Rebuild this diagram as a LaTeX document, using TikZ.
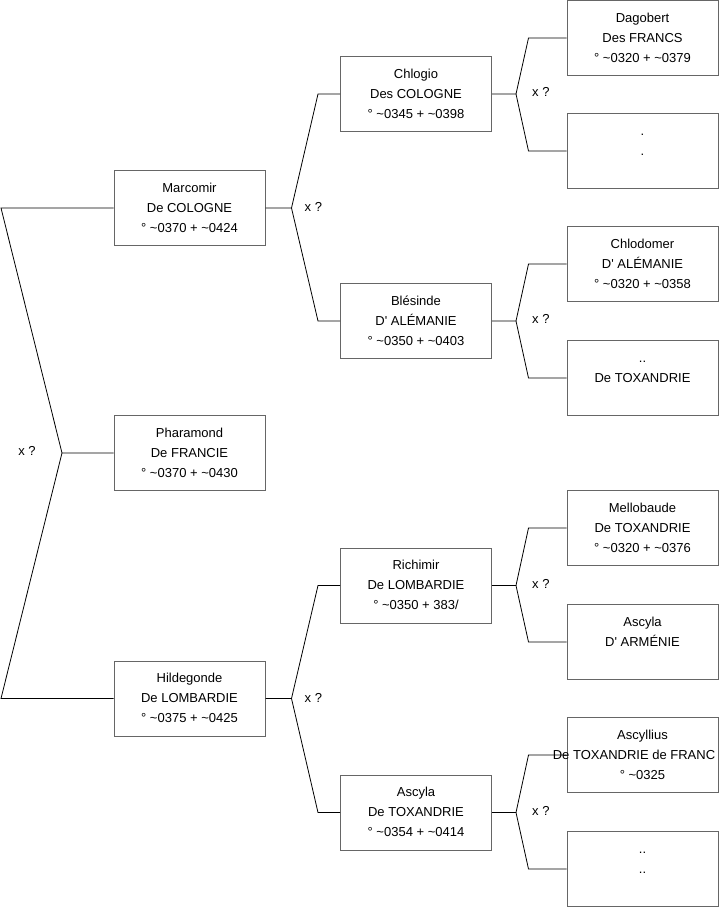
\documentclass[tikz,border=0pt]{standalone}
\usepackage{fontspec}
\setmainfont{Liberation Sans}
\usetikzlibrary{positioning}

\newcommand\ca{\textasciitilde}
\newcommand\ap{\textquotesingle}
\newcommand\fiche[3]{\strut #1\\\strut #2\\\strut #3}

\begin{document}
\begin{tikzpicture}[x=1pt,y=-1pt,
    boite/.style={draw=black!60,line width=1pt,minimum width=151pt,minimum height=75pt,
        inner sep=0pt,align=center,font=\fontsize{13}{20}\selectfont},
    lien/.style={draw=black,line width=0.8pt},
    marque/.style={inner sep=0pt,font=\fontsize{13}{14}\selectfont}]
    \useasboundingbox (0,0) rectangle (719,908);
    % premiere generation
    \node[boite] (marcomir) at (189.5,208) {\fiche{Marcomir}{De COLOGNE}{° \ca0370 + \ca0424}};
    \node[boite] (pharamond) at (189.5,453) {\fiche{Pharamond}{De FRANCIE}{° \ca0370 + \ca0430}};
    \node[boite] (hildegonde) at (189.5,698.5) {\fiche{Hildegonde}{De LOMBARDIE}{° \ca0375 + \ca0425}};
    % deuxieme generation
    \node[boite] (chlogio) at (416,94) {\fiche{Chlogio}{Des COLOGNE}{° \ca0345 + \ca0398}};
    \node[boite] (blesinde) at (416,321) {\fiche{Blésinde}{D\ap{} ALÉMANIE}{° \ca0350 + \ca0403}};
    \node[boite] (richimir) at (416,585.5) {\fiche{Richimir}{De LOMBARDIE}{° \ca0350 + 383/}};
    \node[boite] (ascylatox) at (416,812.5) {\fiche{Ascyla}{De TOXANDRIE}{° \ca0354 + \ca0414}};
    % troisieme generation
    \node[boite] (dagobert) at (642.5,38) {\fiche{Dagobert}{Des FRANCS}{° \ca0320 + \ca0379}};
    \node[boite] (vide) at (642.5,151) {\fiche{.}{.}{}};
    \node[boite] (chlodomer) at (642.5,264) {\fiche{Chlodomer}{D\ap{} ALÉMANIE}{° \ca0320 + \ca0358}};
    \node[boite] (toxandrie) at (642.5,378) {\fiche{..}{De TOXANDRIE}{}};
    \node[boite] (mellobaude) at (642.5,528) {\fiche{Mellobaude}{De TOXANDRIE}{° \ca0320 + \ca0376}};
    \node[boite] (ascylaarm) at (642.5,642) {\fiche{Ascyla}{D\ap{} ARMÉNIE}{}};
    \node[boite] (ascyllius) at (642.5,755) {\fiche{Ascyllius}{\makebox[0pt]{\hspace*{-17pt}De TOXANDRIE de FRANC}}{° \ca0325}};
    \node[boite] (inconnu) at (642.5,869) {\fiche{..}{..}{}};

    % liens
    \path coordinate (j0) at (62,453);
    \path coordinate (a1) at (1,208);
    \path coordinate (a2) at (1,698.5);
    \draw[lien] (marcomir.west) -- (a1) -- (j0) -- (pharamond.west);
    \draw[lien] (j0) -- (a2) -- (hildegonde.west);
    \node[marque] (x0) at (27,451) {x ?};

    \foreach \p/\a/\b in {marcomir/chlogio/blesinde, hildegonde/richimir/ascylatox} {
        \draw[lien] (\p.east) -- ++(26,0) coordinate (j\p) -- ([xshift=-22pt]\a.west) -- (\a.west);
        \draw[lien] (j\p) -- ([xshift=-22pt]\b.west) -- (\b.west);
        \node[marque,anchor=west] (x\p) at ([xshift=13pt,yshift=1pt]j\p) {x ?};
    }
    \foreach \p/\a/\b in {chlogio/dagobert/vide, blesinde/chlodomer/toxandrie,
        richimir/mellobaude/ascylaarm, ascylatox/ascyllius/inconnu} {
        \draw[lien] (\p.east) -- ++(24,0) coordinate (j\p) -- ([xshift=-38pt]\a.west) -- (\a.west);
        \draw[lien] (j\p) -- ([xshift=-38pt]\b.west) -- (\b.west);
        \node[marque,anchor=west] (x\p) at ([xshift=16pt,yshift=2pt]j\p) {x ?};
    }
\end{tikzpicture}
\end{document}
